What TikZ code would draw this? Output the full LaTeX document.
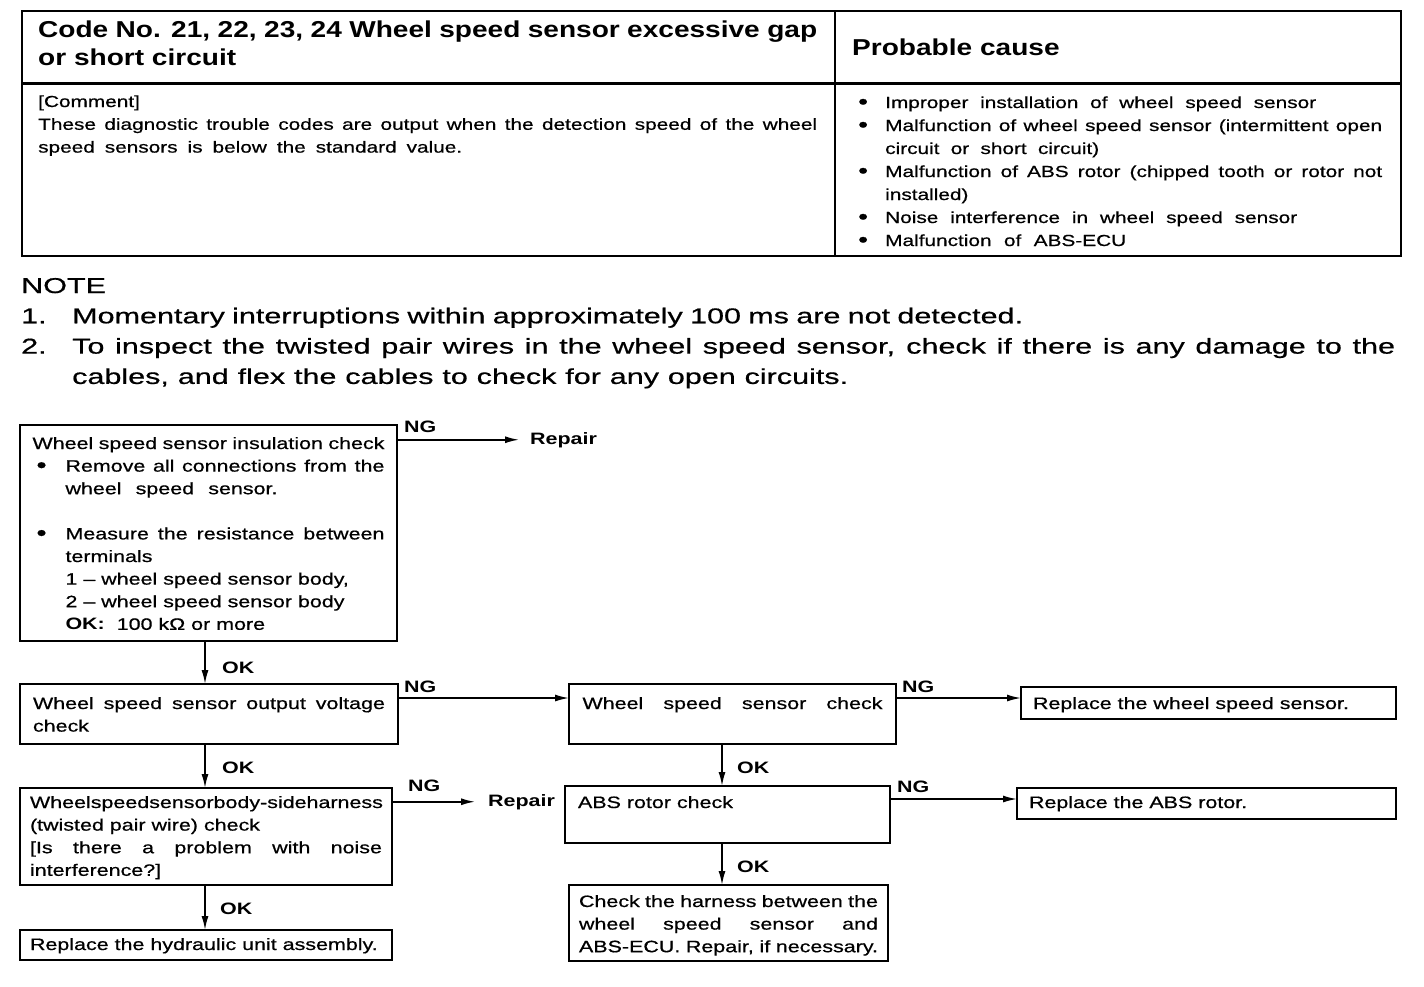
\documentclass[tikz,border=0pt]{standalone}
\usepackage{fontspec}
\setmainfont{Liberation Sans}
\newfontfamily\ftitle[FakeStretch=1.22]{Liberation Sans}
\newfontfamily\fnote[FakeStretch=1.42,UprightFeatures={FakeBold=0.6}]{Liberation Sans}
\newfontfamily\fbody[FakeStretch=1.3,UprightFeatures={FakeBold=0.6}]{Liberation Sans}
\usetikzlibrary{arrows.meta}
\newcommand{\jl}[2]{\makebox[#1pt][s]{#2}}
\newcommand{\bigbul}{\raisebox{-0.06em}{\scalebox{1.35}{\textbullet}}}
\newcommand{\bul}{\makebox[33pt][l]{\hspace{4pt}\bigbul}}
\newcommand{\ind}{\hspace*{33pt}}
\newcommand{\cbul}{\makebox[27pt][l]{\bigbul}}
\newcommand{\cind}{\hspace*{27pt}}
\newcommand{\inbox}[4]{\parbox[c][#2pt][t]{#1pt}{\vspace*{\dimexpr #3pt-15.82pt\relax}\strut #4}}
\begin{document}
\begin{tikzpicture}[x=1pt,y=-1pt,
  box/.style={draw, line width=2.2pt, anchor=north west, inner xsep=#1, inner ysep=0pt, outer sep=0pt,
    font=\fbody\fontsize{16.5pt}{22.6pt}\selectfont},
  box/.default=12pt,
  lab/.style={anchor=base west, inner sep=0pt, font=\fbody\bfseries\fontsize{16.5pt}{20pt}\selectfont},
  txt/.style={anchor=base west, inner sep=0pt},
  conn/.style={line width=1.6pt, -{Latex[length=14pt,width=7pt]}}]
\fill[white] (0,0) rectangle (1424,986);
\useasboundingbox (0,0) rectangle (1424,986);

% ---------- header table ----------
\draw[line width=2.5pt] (22,11) rectangle (1401,256);
\draw[line width=3pt] (22,83) -- (1401,83);
\draw[line width=2pt] (835,11) -- (835,256);

\node[txt, font=\ftitle\bfseries\fontsize{23pt}{28.5pt}\selectfont] (title) at (38,37)
  {\parbox[t]{790pt}{\jl{779}{Code No. 21, 22, 23, 24 Wheel speed sensor excessive gap}\\or short circuit}};
\node[txt, font=\ftitle\bfseries\fontsize{23pt}{28pt}\selectfont] (pc) at (852,55) {Probable cause};

\node[txt, font=\fbody\fontsize{16pt}{22.8pt}\selectfont] (comment) at (38,107)
  {\parbox[t]{779pt}{[Comment]\\
   \jl{779}{These diagnostic trouble codes are output when the detection speed of the wheel}\\
   \jl{424}{speed sensors is below the standard value.}}};

\node[txt, font=\fbody\fontsize{16pt}{23pt}\selectfont] (causes) at (858,108)
  {\parbox[t]{530pt}{\cbul\jl{431}{Improper installation of wheel speed sensor}\\
   \cbul\jl{497}{Malfunction of wheel speed sensor (intermittent open}\\
   \cind\jl{214}{circuit or short circuit)}\\
   \cbul\jl{497}{Malfunction of ABS rotor (chipped tooth or rotor not}\\
   \cind installed)\\
   \cbul\jl{412}{Noise interference in wheel speed sensor}\\
   \cbul\jl{241}{Malfunction of ABS-ECU}}};

% ---------- NOTE ----------
\node[txt, font=\fnote\fontsize{21.5pt}{30.3pt}\selectfont] (note) at (21,293)
  {\parbox[t]{1390pt}{NOTE\\
   \makebox[51pt][l]{1.}\jl{951}{Momentary interruptions within approximately 100 ms are not detected.}\\
   \makebox[51pt][l]{2.}\jl{1323}{To inspect the twisted pair wires in the wheel speed sensor, check if there is any damage to the}\\
   \hspace*{51pt}\jl{776}{cables, and flex the cables to check for any open circuits.}}};

% ---------- flowchart boxes ----------
\node[box=12.5pt] (b1) at (20,425) {\inbox{352}{216}{24}{%
  \jl{352}{Wheel speed sensor insulation check}\\
  \bul\jl{319}{Remove all connections from the}\\
  \ind\jl{212}{wheel speed sensor.}\\[22.6pt]
  \bul\jl{319}{Measure the resistance between}\\
  \ind terminals\\
  \ind 1 – wheel speed sensor body,\\
  \ind 2 – wheel speed sensor body\\
  \ind\textbf{OK:}\ \ 100 kΩ or more}};

\node[box=13pt] (b2) at (20,684) {\inbox{352}{60}{25}{%
  \jl{352}{Wheel speed sensor output voltage}\\check}};

\node[box=13.5pt] (b3) at (569,684) {\inbox{300}{60}{25}{%
  \jl{300}{Wheel speed sensor check}}};

\node[box=12pt] (b4) at (1021,687) {\inbox{351}{32}{22}{%
  Replace the wheel speed sensor.}};

\node[box=10pt] (b5) at (20,788) {\inbox{352}{97}{20}{%
  \jl{352}{\spaceskip=1pt plus 10pt minus 1pt Wheel speed sensor body-side harness}\\
  (twisted pair wire) check\\
  \jl{352}{[Is there a problem with noise}\\
  interference?]}};

\node[box=13pt] (b6) at (565,786) {\inbox{299}{57}{22}{ABS rotor check}};

\node[box=12pt] (b7) at (1017,788) {\inbox{355}{31}{20}{Replace the ABS rotor.}};

\node[box=10pt] (b8) at (569,885) {\inbox{299}{76}{22}{%
  \jl{299}{Check the harness between the}\\
  \jl{299}{wheel speed sensor and}\\
  \jl{299}{ABS-ECU. Repair, if necessary.}}};

\node[box=10pt] (b9) at (20,930) {\inbox{352}{30}{20}{Replace the hydraulic unit assembly.}};

% ---------- labels ----------
\node[lab] (ng1) at (404,432) {NG};
\node[lab] (rep1) at (530,444) {Repair};
\node[lab] (ok1) at (222,673) {OK};
\node[lab] (ng2) at (404,692) {NG};
\node[lab] (ng3) at (902,692) {NG};
\node[lab] (ok2) at (222,773) {OK};
\node[lab] (ok3) at (737,773) {OK};
\node[lab] (ng4) at (408,791) {NG};
\node[lab] (rep2) at (488,806) {Repair};
\node[lab] (ng5) at (897,792) {NG};
\node[lab] (ok4) at (737,872) {OK};
\node[lab] (ok5) at (220,914) {OK};

\coordinate (cL) at (205,0);
\coordinate (cM) at (722,0);

% ---------- connectors ----------
\draw[conn] (b1.east |- rep1.west) -- ([xshift=-11pt]rep1.west);
\draw[conn] (b1.south -| cL) -- (b2.north -| cL);
\draw[conn] ([yshift=-14pt]b2.north east) -- ([yshift=-14pt]b3.north west);
\draw[conn] ([yshift=-14pt]b3.north east) -- ([yshift=-11pt]b4.north west);
\draw[conn] (b2.south -| cL) -- (b5.north -| cL);
\draw[conn] (b5.east |- rep2.west) -- ([xshift=-13pt]rep2.west);
\draw[conn] (b3.south -| cM) -- (b6.north -| cM);
\draw[conn] ([yshift=-13pt]b6.north east) -- ([yshift=-11pt]b7.north west);
\draw[conn] (b6.south -| cM) -- (b8.north -| cM);
\draw[conn] (b5.south -| cL) -- (b9.north -| cL);
\end{tikzpicture}
\end{document}
